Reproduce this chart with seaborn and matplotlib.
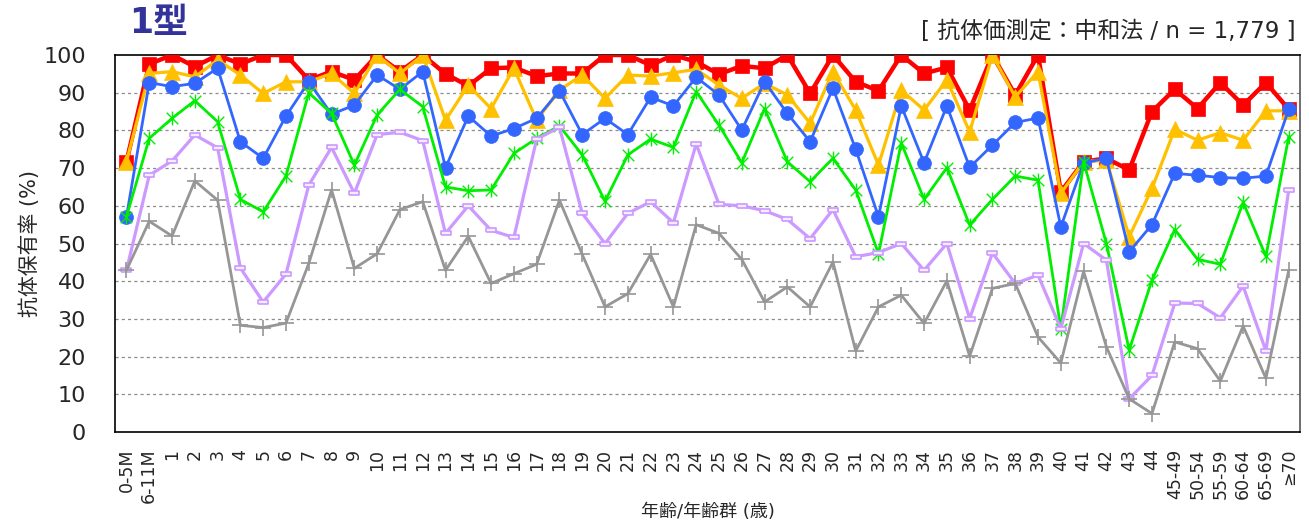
import numpy as np
import matplotlib
matplotlib.use("Agg")
import matplotlib.pyplot as plt
from matplotlib.path import Path
import seaborn as sns

# categorias del eje x (edad / grupo de edad)
ages = ["0-5M", "6-11M"] + [str(a) for a in range(1, 45)] + \
       ["45-49", "50-54", "55-59", "60-64", "65-69", "≥70"]

# series (%)
red_vals = [71.7, 97.6, 100, 96.9, 100, 97.6, 100, 100, 93.4, 95.6, 93.4, 100, 95.6, 100, 95.0,
            91.8, 96.5, 96.7, 94.4, 95.1, 95.1, 100, 100, 97.3, 100, 98.2, 94.9, 97.1, 96.5, 100,
            89.8, 100, 92.9, 90.5, 100, 95.1, 96.7, 85.4, 100, 89.4, 100, 63.7, 71.7, 72.6, 69.5,
            85.0, 90.9, 85.8, 92.7, 86.7, 92.7, 85.6]
orange_vals = [71.7, 95.1, 95.6, 94.2, 98.7, 94.7, 89.8, 92.9, 92.9, 95.1, 89.8, 100, 95.1, 100, 82.7,
               92.0, 85.8, 96.5, 82.7, 90.7, 94.7, 88.5, 94.7, 94.4, 95.3, 96.2, 92.0, 88.5, 92.5, 89.4,
               81.9, 95.6, 85.4, 70.8, 90.7, 85.4, 93.4, 79.6, 100, 88.9, 95.6, 63.3, 71.7, 72.1, 51.8,
               64.6, 80.3, 77.4, 79.4, 77.4, 85.2, 85.2]
blue_vals = [57.1, 92.7, 91.6, 92.5, 96.5, 77.0, 72.6, 83.8, 92.9, 84.3, 86.7, 94.7, 90.9, 95.6, 70.1,
             83.8, 78.5, 80.5, 83.2, 90.5, 78.9, 83.2, 78.9, 88.8, 86.5, 94.1, 89.4, 80.1, 92.9, 84.5,
             77.0, 91.2, 75.0, 57.1, 86.5, 71.4, 86.5, 70.2, 76.1, 82.1, 83.3, 54.4, 71.4, 72.6, 47.8,
             55.0, 68.6, 68.1, 67.5, 67.3, 67.9, 85.6]
green_vals = [57.1, 77.9, 83.2, 87.9, 82.3, 61.7, 58.4, 67.9, 90.0, 84.5, 70.8, 84.1, 90.9, 86.3, 65.0,
              64.0, 64.2, 73.9, 77.9, 81.2, 73.5, 61.2, 73.5, 77.7, 75.5, 90.3, 81.4, 71.4, 85.8, 71.7,
              66.4, 72.6, 64.2, 47.3, 76.7, 61.7, 70.1, 54.9, 61.7, 67.9, 66.8, 27.4, 71.7, 50.0, 21.7,
              40.3, 53.7, 45.8, 44.5, 60.9, 46.6, 78.3]
purple_vals = [42.9, 68.1, 71.9, 78.8, 75.4, 43.5, 34.5, 41.9, 65.5, 75.5, 63.3, 78.9, 79.5, 77.3, 52.7,
               60.0, 53.5, 51.6, 77.7, 80.8, 58.0, 50.0, 58.0, 61.1, 55.5, 76.4, 60.4, 60.0, 58.7, 56.4,
               51.3, 59.0, 46.5, 47.6, 50.0, 42.9, 50.0, 30.1, 47.5, 39.4, 41.6, 27.4, 50.0, 45.6, 8.8,
               15.0, 34.2, 34.1, 30.3, 38.7, 21.5, 64.2]
gray_vals = [42.9, 55.9, 52.0, 66.6, 61.5, 28.3, 27.7, 28.9, 44.7, 64.2, 43.4, 47.3, 59.0, 61.1, 42.9,
             51.9, 39.4, 42.0, 44.5, 61.5, 47.1, 33.2, 36.7, 47.1, 33.2, 55.0, 52.7, 45.8, 34.5, 38.5,
             33.2, 45.1, 21.5, 33.2, 36.3, 28.8, 40.1, 20.1, 38.1, 39.4, 25.2, 18.3, 42.6, 22.6, 8.8,
             4.9, 23.9, 22.1, 13.5, 28.1, 14.2, 42.9]

sns.set_style("white")
plt.rcParams['font.family'] = ['DejaVu Sans', 'Noto Sans CJK JP']

# marcadores especiales
rect_marker = Path([(-1, -0.4), (1, -0.4), (1, 0.4), (-1, 0.4), (-1, -0.4)])
star_marker = Path([(-1, -1), (1, 1), (-1, 1), (1, -1), (0, -1.2), (0, 1.2)],
                   [Path.MOVETO, Path.LINETO, Path.MOVETO, Path.LINETO, Path.MOVETO, Path.LINETO])

fig = plt.figure(figsize=(13.09, 5.26), dpi=100)
ax = fig.add_axes([0.0879, 0.1787, 0.9053, 0.7167])

xpos = np.arange(len(ages))

sns.lineplot(x=xpos, y=red_vals, ax=ax, color='#FF0000', linewidth=3.2, marker='s', markersize=9.5,
             markeredgecolor='#FF0000', markerfacecolor='#FF0000', markeredgewidth=0.5, zorder=3)
sns.lineplot(x=xpos, y=orange_vals, ax=ax, color='#FFC000', linewidth=2.3, marker='^', markersize=11,
             markeredgecolor='#FFC000', markerfacecolor='#FFC000', markeredgewidth=0.5, zorder=4)
sns.lineplot(x=xpos, y=blue_vals, ax=ax, color='#3366FF', linewidth=2.0, marker='o', markersize=10,
             markeredgecolor='#3366FF', markerfacecolor='#3366FF', markeredgewidth=0.5, zorder=5)
sns.lineplot(x=xpos, y=green_vals, ax=ax, color='#00EE00', linewidth=2.0, marker=star_marker, markersize=10,
             markeredgecolor='#00EE00', markerfacecolor='none', markeredgewidth=1.0, zorder=6)
sns.lineplot(x=xpos, y=purple_vals, ax=ax, color='#CC99FF', linewidth=2.3, marker=rect_marker, markersize=7.5,
             markeredgecolor='#CC99FF', markerfacecolor='#F4ECFF', markeredgewidth=1.2, zorder=7)
sns.lineplot(x=xpos, y=gray_vals, ax=ax, color='#969696', linewidth=2.0, marker='+', markersize=11,
             markeredgecolor='#969696', markeredgewidth=1.2, zorder=8)

ax.set_xlim(-0.5, len(ages) - 0.5)
ax.set_ylim(0, 100)
ax.set_yticks(range(0, 101, 10))
ax.set_xticks(xpos)
ax.set_xticklabels(ages, rotation=90, fontsize=12.5)
ax.tick_params(axis='y', labelsize=16, length=0, pad=21)
ax.tick_params(axis='x', length=0, pad=12)

# lineas de cuadricula punteadas
for v in range(10, 100, 10):
    ax.axhline(v, color='#8c8c8c', linestyle=(0, (2.5, 2.5)), linewidth=0.9, zorder=1)

for s in ax.spines.values():
    s.set_color('black')
    s.set_linewidth(1.2)
ax.spines['right'].set_color('#555555')

ax.set_xlabel('年齢/年齢群 (歳)', fontsize=13, labelpad=0)
ax.set_ylabel('抗体保有率 (%)', fontsize=15, labelpad=2)

fig.text(0.099, 0.957, '1型', fontsize=25, fontweight='bold', color='#333399',
         family=['DejaVu Sans', 'Noto Sans CJK JP'], va='center', ha='left')
fig.text(0.990, 0.940, '[ 抗体価測定：中和法 / n = 1,779 ]', fontsize=16.5,
         family=['DejaVu Sans', 'Noto Sans CJK JP'], va='center', ha='right')

plt.savefig('out.png', dpi=100)
